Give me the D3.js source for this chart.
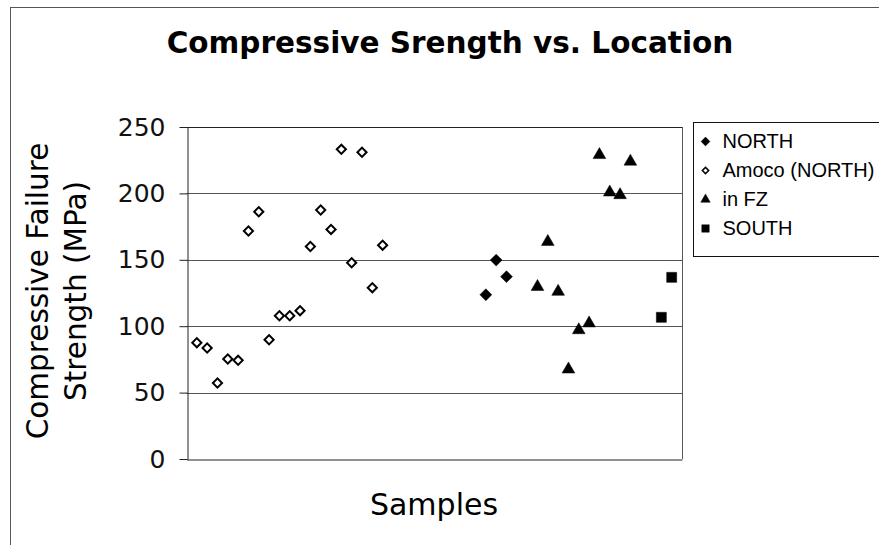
<!DOCTYPE html>
<html>
<head>
<meta charset="utf-8">
<script src="https://cdn.jsdelivr.net/npm/d3@7"></script>
<style>
  body { margin: 0; background: #fff; }
  svg { display: block; }
</style>
</head>
<body>
<div id="chart"></div>
<script>
// sample number along the x axis, strength in MPa
const amocoSamples = [1, 2, 3, 4, 5, 6, 7, 8, 9, 10, 11, 12, 13, 14, 15, 16, 17, 18, 19]
const amocoValues = [87.6, 83.6, 57.2, 75.3, 74.3, 171.7, 186.2, 89.8, 107.9, 107.9, 111.7, 160, 187.5, 172.9, 233.2, 147.8, 231, 129, 161]
const northSamples = [29, 30, 31]
const northValues = [123.7, 149.8, 137.3]
const fzSamples = [34, 35, 36, 37, 38, 39, 40, 41, 42, 43]
const fzValues = [129.7, 163.6, 126, 67.5, 97.1, 102.2, 229, 200.8, 198.8, 224]
const southSamples = [46, 47]
const southValues = [106.7, 136.8]
const yTicks = [0, 50, 100, 150, 200, 250]

const width = 879
const height = 545
const margin = ({top: 127, right: 197, bottom: 86, left: 186.5})

const svg = d3.select("#chart").append("svg")
    .attr("width", width)
    .attr("height", height)

// outer chart border
svg.append("rect")
    .attr("x", 10.5).attr("y", 7.5)
    .attr("width", width).attr("height", height)
    .attr("fill", "none")
    .attr("stroke", "#555")

const x = d3.scaleLinear()
    .domain([0, 48])
    .range([margin.left, width - margin.right])

const y = d3.scaleLinear()
    .domain([0, 250])
    .range([height - margin.bottom, margin.top])

// gridlines
svg.append("g")
    .selectAll("line")
    .data(yTicks.filter(d => d > 0))
    .join("line")
    .attr("x1", x(0)).attr("x2", x(48))
    .attr("y1", d => Math.round(y(d)) + 0.5)
    .attr("y2", d => Math.round(y(d)) + 0.5)
    .attr("stroke", d => d === 250 ? "#222" : "#555")

// right border of plot
svg.append("line")
    .attr("x1", Math.round(x(48)) + 0.5).attr("x2", Math.round(x(48)) + 0.5)
    .attr("y1", y(250)).attr("y2", y(0))
    .attr("stroke", "#555")

const yAxis = g => g
    .attr("transform", `translate(${Math.round(margin.left) + 0.5},0)`)
    .call(d3.axisLeft(y).tickValues(yTicks).tickSize(8).tickPadding(14).tickSizeOuter(0))
    .call(g => g.selectAll("text")
        .attr("font-family", "DejaVu Sans")
        .attr("font-size", 25)
        .attr("fill", "#111"))
    .call(g => g.selectAll("line, path").attr("stroke", "#222"))

const xAxis = g => g
    .attr("transform", `translate(0,${Math.round(height - margin.bottom) + 0.5})`)
    .call(d3.axisBottom(x).tickValues([]).tickSizeOuter(0))
    .call(g => g.select(".domain").attr("stroke", "#222"))

svg.append("g").call(xAxis)
svg.append("g").call(yAxis)

// titles
svg.append("text")
    .attr("x", 450).attr("y", 53)
    .attr("text-anchor", "middle")
    .attr("font-family", "DejaVu Sans")
    .attr("font-weight", "bold")
    .attr("font-size", 29.5)
    .text("Compressive Srength vs. Location")

svg.append("text")
    .attr("x", 434).attr("y", 515)
    .attr("text-anchor", "middle")
    .attr("font-family", "DejaVu Sans")
    .attr("font-size", 30)
    .text("Samples")

const yTitle = svg.append("text")
    .attr("transform", "translate(48,291) rotate(-90)")
    .attr("text-anchor", "middle")
    .attr("font-family", "DejaVu Sans")
    .attr("font-size", 29.5)
yTitle.append("tspan").attr("x", 0).attr("y", 0).text("Compressive Failure")
yTitle.append("tspan").attr("x", 0).attr("y", 38).text("Strength (MPa)")

// series; diamonds are squares turned by 45 degrees
const series = [
    {name: "NORTH", samples: northSamples, values: northValues, type: d3.symbolSquare, rot: 45, fill: "#000", size: 70},
    {name: "Amoco (NORTH)", samples: amocoSamples, values: amocoValues, type: d3.symbolSquare, rot: 45, fill: "#fff", size: 42},
    {name: "in FZ", samples: fzSamples, values: fzValues, type: d3.symbolTriangle, rot: 0, fill: "#000", size: 70},
    {name: "SOUTH", samples: southSamples, values: southValues, type: d3.symbolSquare, rot: 0, fill: "#000", size: 100}
]

series.forEach(s => {
    const sym = d3.symbol().type(s.type).size(s.size)
    svg.append("g")
        .selectAll("path")
        .data(d3.zip(s.samples, s.values))
        .join("path")
        .attr("transform", d => `translate(${x(d[0])},${y(d[1])}) rotate(${s.rot})`)
        .attr("d", sym)
        .attr("fill", s.fill)
        .attr("stroke", "#000")
        .attr("stroke-width", s.fill === "#fff" ? 2 : 0.5)
})

// legend
const legend = svg.append("g").attr("transform", "translate(693.5,122.5)")
legend.append("rect")
    .attr("width", 200).attr("height", 134)
    .attr("fill", "#fff")
    .attr("stroke", "#111")

const item = legend.selectAll("g.item")
    .data(series)
    .join("g")
    .attr("class", "item")
    .attr("transform", (d, i) => `translate(0,${18 + i * 29})`)

item.append("path")
    .attr("transform", d => `translate(12,1) rotate(${d.rot})`)
    .attr("d", d => d3.symbol().type(d.type).size(d.fill === "#fff" ? 20 : d.size * 0.55)())
    .attr("fill", d => d.fill)
    .attr("stroke", "#000")
    .attr("stroke-width", d => d.fill === "#fff" ? 1.5 : 0.5)

item.append("text")
    .attr("x", 29).attr("dy", "0.36em")
    .attr("font-family", "Liberation Sans")
    .attr("font-size", 20)
    .text(d => d.name)
</script>
</body>
</html>
